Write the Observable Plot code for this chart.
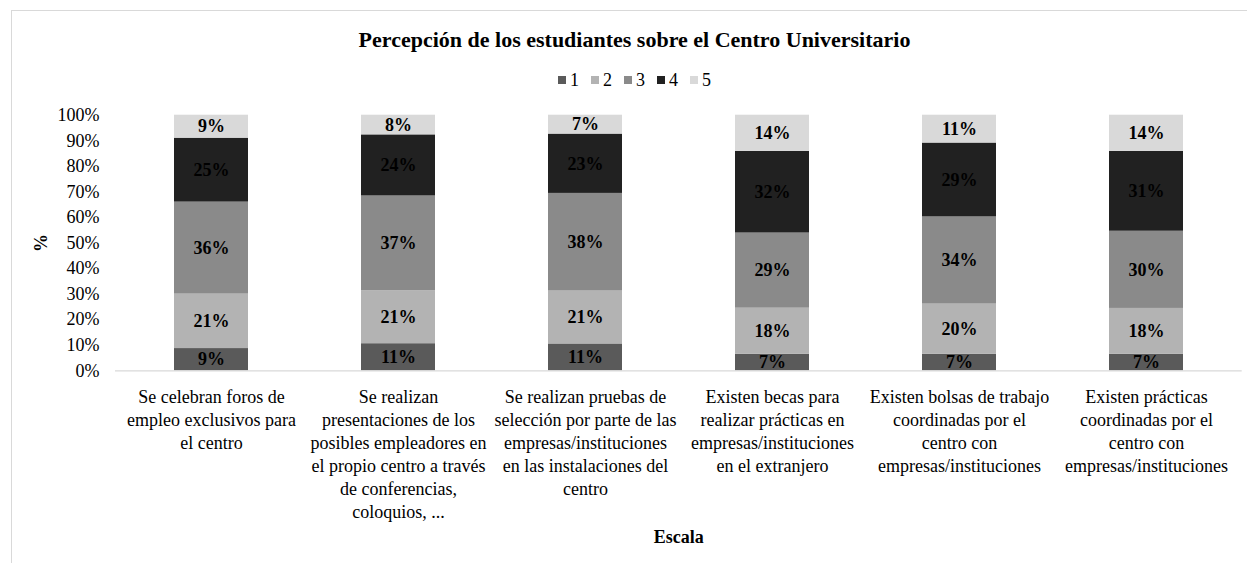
<!DOCTYPE html>
<html><head><meta charset="utf-8">
<script src="https://cdn.jsdelivr.net/npm/d3@7"></script>
<script src="https://cdn.jsdelivr.net/npm/@observablehq/plot@0.6"></script>
<style>
body{margin:0;background:#fff;font-family:"Liberation Serif","Times New Roman",Times,serif;}
#wrap{position:relative;width:1247px;height:563px;overflow:hidden;background:#fff;}
#border{position:absolute;left:10.5px;top:10px;width:1300px;height:600px;border:1px solid #d9d9d9;box-sizing:border-box;}
#title{position:absolute;left:22px;width:1225px;top:27px;text-align:center;font-weight:bold;font-size:22px;line-height:26px;color:#000;}
#legend{position:absolute;left:22px;width:1225px;top:70px;display:flex;justify-content:center;font-size:18px;line-height:20px;color:#000;}
.item{display:flex;align-items:center;margin:0 6px;}
.sw{width:8px;height:8px;margin-right:4px;}
#chart svg{position:absolute;left:0;top:0;}
#chart svg text, #chart svg tspan{font-family:"Liberation Serif","Times New Roman",Times,serif;}
</style></head><body>
<div id="wrap"><div id="border"></div><div id="chart"></div><div id="title"></div><div id="legend"></div></div>
<script>
const titleText = "Percepción de los estudiantes sobre el Centro Universitario";
const categories = [
  "Se celebran foros de\nempleo exclusivos para\nel centro",
  "Se realizan\npresentaciones de los\nposibles empleadores en\nel propio centro a través\nde conferencias,\ncoloquios, ...",
  "Se realizan pruebas de\nselección por parte de las\nempresas/instituciones\nen las instalaciones del\ncentro",
  "Existen becas para\nrealizar prácticas en\nempresas/instituciones\nen el extranjero",
  "Existen bolsas de trabajo\ncoordinadas por el\ncentro con\nempresas/instituciones",
  "Existen prácticas\ncoordinadas por el\ncentro con\nempresas/instituciones"
];
const series = ["1", "2", "3", "4", "5"];
const colors = ["#5a5a5a", "#b3b3b3", "#8a8a8a", "#212121", "#d9d9d9"];
const s1 = [8.7, 10.6, 10.5, 6.5, 6.5, 6.5];
const s2 = [21.3, 20.7, 20.7, 18.0, 19.6, 17.9];
const s3 = [36.0, 37.1, 38.2, 29.4, 34.1, 30.2];
const s4 = [25.0, 23.9, 23.2, 31.9, 28.9, 31.2];
const s5 = [9.0, 7.7, 7.4, 14.2, 10.9, 14.2];
const yTicks = [0, 10, 20, 30, 40, 50, 60, 70, 80, 90, 100];
const yAxisLabel = "%";
const xAxisLabel = "Escala";

const values = [s1, s2, s3, s4, s5];
const data = [];
series.forEach((s, i) => categories.forEach((c, j) => data.push({cat: c, serie: s, value: values[i][j]})));

document.getElementById("title").textContent = titleText;
const leg = document.getElementById("legend");
series.forEach((s, i) => {
  const it = document.createElement("div"); it.className = "item";
  const sw = document.createElement("div"); sw.className = "sw"; sw.style.background = colors[i];
  const t = document.createElement("span"); t.textContent = s;
  it.appendChild(sw); it.appendChild(t); leg.appendChild(it);
});

const serif = "'Liberation Serif', 'Times New Roman', Times, serif";
const chart = Plot.plot({
  width: 1247, height: 563,
  marginLeft: 115, marginRight: 5.3, marginTop: 114.7, marginBottom: 192.7,
  style: {fontFamily: serif, fontSize: "18px", background: "transparent", color: "#000", overflow: "visible"},
  x: {domain: categories, paddingInner: 0.606, paddingOuter: 0.303, label: null},
  y: {domain: [0, 100], label: null},
  color: {domain: series, range: colors},
  marks: [
    Plot.barY(data, {x: "cat", y: "value", fill: "serie", z: "serie"}),
    Plot.ruleY([0], {stroke: "#d9d9d9", strokeWidth: 1.2}),
    Plot.text(data, Plot.stackY({x: "cat", y: "value", z: "serie", text: d => Math.round(d.value) + "%", fontWeight: "bold", fontSize: 18, fontFamily: serif, fill: "#000"})),
    Plot.axisY(yTicks, {tickSize: 0, tickPadding: 16, tickFormat: d => d + "%", fontSize: 18, fontFamily: serif, label: null}),
    Plot.axisX({tickSize: 0, tickPadding: 16, lineHeight: 1.28, fontSize: 18, fontFamily: serif, label: null}),
    Plot.text([yAxisLabel], {text: d => d, frameAnchor: "left", dx: -74, rotate: -90, textAnchor: "middle", lineAnchor: "middle", fontWeight: "bold", fontSize: 18, fontFamily: serif}),
    Plot.text([xAxisLabel], {text: d => d, frameAnchor: "bottom", dy: 172, fontWeight: "bold", fontSize: 18, fontFamily: serif})
  ]
});
document.getElementById("chart").appendChild(chart);
</script>
</body></html>
